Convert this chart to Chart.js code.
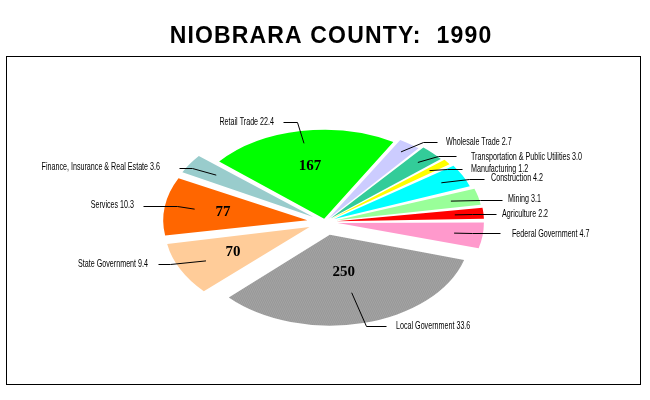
<!DOCTYPE html>
<html>
<head>
<meta charset="utf-8">
<style>html,body{margin:0;padding:0;background:#fff}canvas{display:block}</style>
<script src="https://cdn.jsdelivr.net/npm/chart.js@4/dist/chart.umd.min.js"></script>
</head>
<body>
<canvas id="c" width="650" height="400"></canvas>
<script>
// --- data ---
const titleText = 'NIOBRARA COUNTY:  1990';
const categories = ['Retail Trade','Wholesale Trade','Transportation & Public Utilities','Manufacturing','Construction','Mining','Agriculture','Federal Government','Local Government','State Government','Services','Finance, Insurance & Real Estate'];
const percents = [22.4,2.7,3.0,1.2,4.2,3.1,2.2,4.7,33.6,9.4,10.3,3.6];
const counts = [167,null,null,null,null,null,null,null,250,70,77,null];
// --- styles and layout ---
const colors = ['#00ff00','#ccccff','#33cc99','#ffff00','#00ffff','#99ff99','#ff0000','#ff99cc','GREY','#ffcc99','#ff6600','#99cccc'];
const explode = [5,10,14,16,18,21,22,22,23,25,25,25];
const leaderFrac = [.86,.89,.85,.84,.825,.795,.79,.79,.65,.79,.78,.77];
const elbowX = [297,423,438,447,469,480,472,472,366,170,177,192];
const elbowY = [122,142,156,169,179,200,214,233,326,264,206,168];
const lineEndX = [283,437,456,462,484,502,496,500,386,158,143,179];
const textX = [274,446,471,471,491,508,502,512,396,148,134,160];
const textY = [122,142,157,169,178,199,214,234,326,264,205,167];
const numFrac = [.605,0,0,0,0,0,0,0,.41,.57,.57,0];
const R = 137, CX = 325, CY = 222, SQUASH = 0.65, ROT = -50, NARROW = 0.65;

function greyPattern(){
  const p = document.createElement('canvas'); p.width = 2; p.height = 2;
  const g = p.getContext('2d');
  g.fillStyle = '#a6a6a6'; g.fillRect(0,0,2,2);
  g.fillStyle = '#969696'; g.fillRect(0,0,1,1); g.fillRect(1,1,1,1);
  return g.createPattern(p,'repeat');
}
const total = percents.reduce((a,b)=>a+b,0);
function offsetFor(i){
  const circ = percents[i]/total*2*Math.PI;
  const fix = 1 - Math.sin(Math.min(Math.PI,circ));
  return 4*explode[i]/(1+fix);
}
const pieLook = {
  id:'pieLook',
  afterDatasetsUpdate(chart){
    chart.getDatasetMeta(0).data.forEach(a=>{ a.outerRadius = R; });
  },
  beforeDraw(chart){
    const c = chart.ctx;
    c.save(); c.fillStyle='#fff'; c.fillRect(0,0,650,400);
    c.strokeStyle='#000'; c.lineWidth=1; c.strokeRect(6.5,56.5,634,328); c.restore();
    c.letterSpacing='1.15px';
  },
  beforeDatasetsDraw(chart){
    const c = chart.ctx, a = chart.getDatasetMeta(0).data[0];
    c.letterSpacing='0px';
    c.save();
    c.translate(CX,CY); c.scale(1,SQUASH); c.translate(-a.x,-a.y);
  },
  afterDatasetsDraw(chart){
    const c = chart.ctx; c.restore();
    const pt = (arc,i,f)=>{
      const m=(arc.startAngle+arc.endAngle)/2, r=explode[i]+R*f;
      return [CX+Math.cos(m)*r, CY+Math.sin(m)*r*SQUASH];
    };
    c.save();
    chart.getDatasetMeta(0).data.forEach((arc,i)=>{
      const p = pt(arc,i,leaderFrac[i]);
      c.strokeStyle='#000'; c.lineWidth=1;
      c.beginPath(); c.moveTo(p[0],p[1]); c.lineTo(elbowX[i]+.5,elbowY[i]+.5); c.lineTo(lineEndX[i]+.5,elbowY[i]+.5); c.stroke();
      c.fillStyle='#000'; c.font='11px "Liberation Sans"';
      c.textBaseline='middle'; c.textAlign = textX[i]<CX-40 ? 'right':'left';
      const s = categories[i]+' '+percents[i].toFixed(1);
      c.fillText(s,textX[i],textY[i],c.measureText(s).width*NARROW);
      if(counts[i]!==null){
        const q = pt(arc,i,numFrac[i]);
        c.font='bold 15px "Liberation Serif"'; c.textAlign='center';
        c.fillText(String(counts[i]),q[0],q[1]);
      }
    });
    c.restore();
  }
};
new Chart(document.getElementById('c'),{
  type:'pie',
  plugins:[pieLook],
  data:{labels:categories,datasets:[{
    data:percents,
    backgroundColor:colors.map(k=>k==='GREY'?greyPattern():k),
    borderWidth:0,
    offset:ctx=>offsetFor(ctx.dataIndex)
  }]},
  options:{
    responsive:false,animation:false,
    radius:R,rotation:ROT,
    layout:{padding:{left:12}},
    plugins:{
      legend:{display:false},tooltip:{enabled:false},
      title:{display:true,text:titleText,color:'#000',
        font:{family:'"Liberation Sans"',size:23,weight:'bold'},
        padding:{top:23,bottom:0}}
    }
  }
});
</script>
</body>
</html>
